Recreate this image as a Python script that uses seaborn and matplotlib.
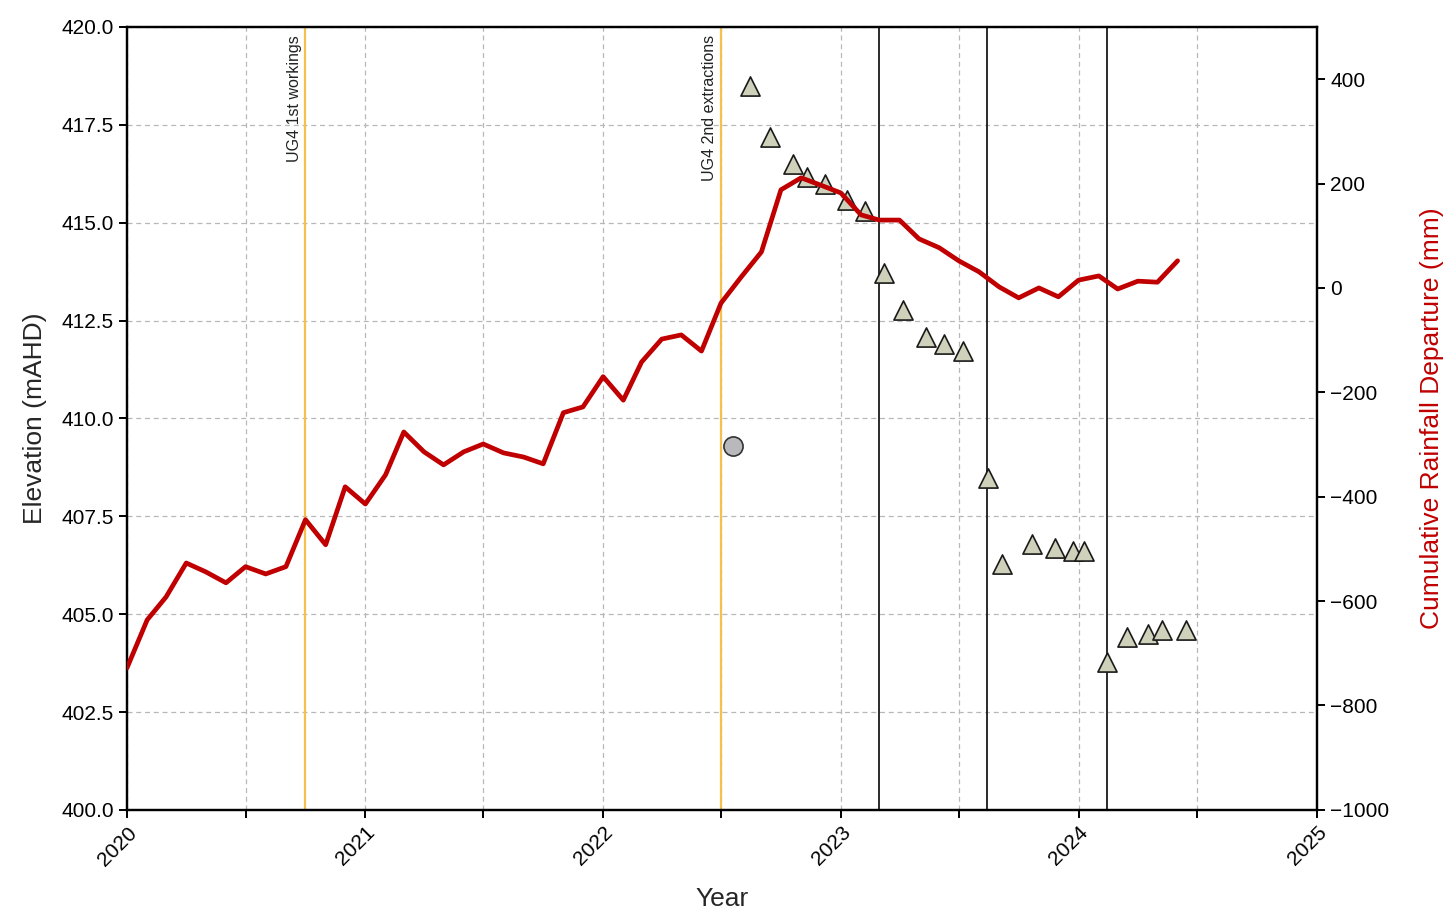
import numpy as np
import pandas as pd
import matplotlib
matplotlib.use("Agg")
import matplotlib.pyplot as plt
import matplotlib.dates as mdates
from matplotlib.ticker import FormatStrFormatter
import seaborn as sns

# ---- data ----
rain_start = "2020-01-01"
rain_values = [-728, -636, -592, -527, -544, -565, -534, -548, -534, -444, -492, -381,
               -414, -358, -276, -314, -339, -314, -299, -316, -324, -337, -239, -228,
               -170, -215, -142, -98, -90, -121, -29, 21, 69, 188, 211, 197,
               182, 140, 130, 130, 94, 77, 52, 31, 2, -19, 0, -17,
               15, 23, -2, 13, 11, 52]
rain_dates = pd.date_range(rain_start, periods=len(rain_values), freq="MS")

survey_dates = ["2022-08-15", "2022-09-14", "2022-10-19", "2022-11-10", "2022-12-07",
                "2023-01-10", "2023-02-07", "2023-03-08", "2023-04-07", "2023-05-12",
                "2023-06-09", "2023-07-08", "2023-08-15", "2023-09-06", "2023-10-21",
                "2023-11-25", "2023-12-23", "2024-01-10", "2024-02-14", "2024-03-15",
                "2024-04-16", "2024-05-08", "2024-06-14"]
survey_elev = [418.49, 417.19, 416.50, 416.17, 415.99, 415.58, 415.30, 413.72, 412.77,
               412.08, 411.90, 411.72, 408.48, 406.28, 406.79, 406.69, 406.62, 406.62,
               403.78, 404.42, 404.50, 404.60, 404.60]

circle_dates = ["2022-07-19"]
circle_elev = [409.3]

mining_dates = ["2020-10-01", "2022-07-01"]
mining_labels = ["UG4 1st workings", "UG4 2nd extractions"]
event_dates = ["2023-03-01", "2023-08-14", "2024-02-13"]

left_ticks = [400.0, 402.5, 405.0, 407.5, 410.0, 412.5, 415.0, 417.5, 420.0]
right_ticks = [-1000, -800, -600, -400, -200, 0, 200, 400]

# ---- style ----
sns.set_theme(style="white")
plt.rcParams["font.family"] = ["Liberation Sans", "DejaVu Sans"]
plt.rcParams["axes.unicode_minus"] = True

rain_df = pd.DataFrame({"date": rain_dates, "value": rain_values})
survey_df = pd.DataFrame({"date": pd.to_datetime(survey_dates), "elev": survey_elev})
circle_df = pd.DataFrame({"date": pd.to_datetime(circle_dates), "elev": circle_elev})

fig = plt.figure(figsize=(14.53, 9.11), dpi=100)
ax = fig.add_axes([0.0874, 0.111, 0.819, 0.8594])
ax2 = ax.twinx()
ax.set_axisbelow(True)

# vertical mining lines
for d, lab in zip(mining_dates, mining_labels):
    dt = pd.Timestamp(d)
    ax.axvline(dt, color="#f2c14e", linewidth=1.6, zorder=2)
    ax.text(dt - pd.Timedelta(days=6), 419.8, lab, rotation=90, va="top", ha="right",
            fontsize=11.5, color="#222222", zorder=3)

for d in event_dates:
    ax.axvline(pd.Timestamp(d), color="#1a1a1a", linewidth=1.3, zorder=2)

sns.scatterplot(data=survey_df, x="date", y="elev", ax=ax, marker="^", s=190,
                color="#cfd1bb", edgecolor="#1a1a1a", linewidth=1.2, zorder=4, legend=False)
sns.scatterplot(data=circle_df, x="date", y="elev", ax=ax, marker="o", s=190,
                color="#b9b9bd", edgecolor="#333333", linewidth=1.2, zorder=4, legend=False)

sns.lineplot(data=rain_df, x="date", y="value", ax=ax2, color="#c00000",
             linewidth=3.4, zorder=5, legend=False)

# ---- axes ----
ax.set_xlim(pd.Timestamp("2020-01-01"), pd.Timestamp("2025-01-01"))
ax.set_ylim(400, 420)
ax2.set_ylim(-1000, 500)

ax.xaxis.set_major_locator(mdates.YearLocator())
ax.xaxis.set_major_formatter(mdates.DateFormatter("%Y"))
ax.xaxis.set_minor_locator(mdates.MonthLocator(bymonth=[7]))
ax.set_yticks(left_ticks)
ax.yaxis.set_major_formatter(FormatStrFormatter("%.1f"))
ax2.set_yticks(right_ticks)

ax.grid(True, which="both", axis="x", linestyle=(0, (4, 3)), color="#b8b8b8", linewidth=0.9)
ax.grid(True, which="major", axis="y", linestyle=(0, (4, 3)), color="#b8b8b8", linewidth=0.9)
ax2.grid(False)

for a in (ax, ax2):
    for s in a.spines.values():
        s.set_color("black")
        s.set_linewidth(1.6)

ax.tick_params(axis="x", which="both", direction="out", length=6, width=1.4,
               colors="black", labelsize=15, bottom=True)
ax.tick_params(axis="y", which="major", direction="out", length=6, width=1.4,
               colors="black", labelsize=15, left=True)
ax2.tick_params(axis="y", which="major", direction="out", length=6, width=1.4,
                colors="black", labelsize=15, right=True)

for lbl in ax.get_xticklabels():
    lbl.set_rotation(45)
    lbl.set_ha("right")
    lbl.set_rotation_mode("anchor")

ax.set_xlabel("Year", fontsize=19, labelpad=13)
ax.set_ylabel("Elevation (mAHD)", fontsize=19, labelpad=10)
ax2.set_ylabel("Cumulative Rainfall Departure (mm)", fontsize=19, color="#c00000", labelpad=22)

fig.savefig("out.png", dpi=100)
